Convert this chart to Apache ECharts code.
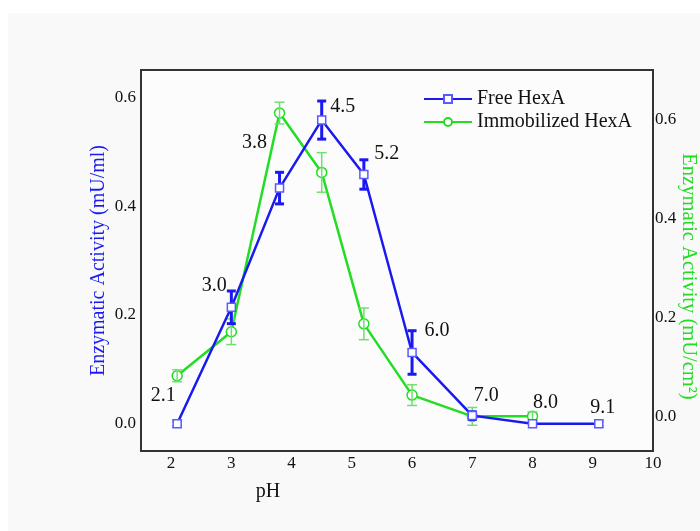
<!DOCTYPE html>
<html>
<head>
<meta charset="utf-8">
<script src="https://cdn.jsdelivr.net/npm/echarts@6/dist/echarts.min.js"></script>
<style>
  html, body { margin: 0; padding: 0; background: #ffffff; }
  #chart { width: 700px; height: 531px; }
</style>
</head>
<body>
<div id="chart"></div>
<script>
// pH values tested
const phFree = [2.1, 3.0, 3.8, 4.5, 5.2, 6.0, 7.0, 8.0, 9.1];
const phImmob = [2.1, 3.0, 3.8, 4.5, 5.2, 6.0, 7.0, 8.0];

// Free HexA activity (mU/ml) with error
const freeActivity = [0.0, 0.214, 0.433, 0.558, 0.458, 0.131, 0.015, 0.0, 0.0];
const freeError = [0.005, 0.030, 0.029, 0.035, 0.027, 0.040, 0.007, 0.005, 0.005];

// Immobilized HexA activity (mU/cm2) with error
const immobActivity = [0.082, 0.171, 0.613, 0.493, 0.187, 0.043, 0.0, 0.0];
const immobError = [0.012, 0.026, 0.022, 0.040, 0.032, 0.021, 0.018, 0.009];

// pH annotations next to the Free HexA points
const phLabels = ['2.1', '3.0', '3.8', '4.5', '5.2', '6.0', '7.0', '8.0', '9.1'];

// axis tick labels
const xTicks = [2, 3, 4, 5, 6, 7, 8, 9, 10];
const yTicksLeft = [0, 0.2, 0.4, 0.6];
const yTicksRight = [0, 0.2, 0.4, 0.6];

// label placement relative to each point (pixels)
const labelOffsets = [[-14, -28], [-17, -22], [-25, -45], [21, -13], [23, -21], [25, -22], [14, -20], [13, -21], [4, -16]];

const FONT = "'Liberation Serif', 'Times New Roman', serif";
const BLUE = '#1a1af0';
const GREEN = '#22dd22';
const GREEN_ERR = '#6fe06f';

const chart = echarts.init(document.getElementById('chart'), null, { renderer: 'canvas' });

function errorBarSeries(xs, ys, es, yAxisIndex, color, width, capHalf) {
  return {
    type: 'custom',
    xAxisIndex: 0,
    yAxisIndex: yAxisIndex,
    silent: true,
    z: 4,
    data: xs.map((x, i) => [x, ys[i], es[i]]),
    encode: { x: 0, y: 1 },
    renderItem: function (params, api) {
      const x = api.value(0), y = api.value(1), e = api.value(2);
      const hi = api.coord([x, y + e]);
      const lo = api.coord([x, y - e]);
      const style = { stroke: color, lineWidth: width };
      return {
        type: 'group',
        children: [
          { type: 'line', shape: { x1: hi[0], y1: hi[1], x2: lo[0], y2: lo[1] }, style: style },
          { type: 'line', shape: { x1: hi[0] - capHalf, y1: hi[1], x2: hi[0] + capHalf, y2: hi[1] }, style: style },
          { type: 'line', shape: { x1: lo[0] - capHalf, y1: lo[1], x2: lo[0] + capHalf, y2: lo[1] }, style: style }
        ]
      };
    }
  };
}

const option = {
  backgroundColor: '#ffffff',
  animation: false,
  graphic: [
    { type: 'rect', z: -10, shape: { x: 8, y: 13, width: 692, height: 518 }, style: { fill: '#f9f9f9' } }
  ],
  grid: {
    left: 141, right: 47, top: 70, bottom: 80,
    outerBoundsMode: 'none',
    containLabel: false,
    show: true, borderColor: '#333333', borderWidth: 2, backgroundColor: '#fcfcfc'
  },
  legend: {
    left: 423, top: 89,
    padding: 0,
    orient: 'vertical',
    itemWidth: 48, itemHeight: 10, itemGap: 3,
    textStyle: { fontFamily: FONT, fontSize: 20, color: '#111111' },
    data: ['Free HexA', 'Immobilized HexA']
  },
  xAxis: {
    type: 'value',
    min: 1.5, max: 10,
    name: 'pH',
    nameLocation: 'middle',
    nameGap: 31,
    nameMoveOverlap: false,
    nameTextStyle: { fontFamily: FONT, fontSize: 20, color: '#111111', padding: [0, 258, 0, 0] },
    axisLine: { show: true, onZero: false, lineStyle: { color: '#333333', width: 2 } },
    axisTick: { show: false },
    splitLine: { show: false },
    axisLabel: {
      customValues: xTicks,
      margin: 4,
      fontFamily: FONT, fontSize: 17, color: '#111111'
    }
  },
  yAxis: [
    {
      type: 'value',
      min: -0.05, max: 0.65,
      position: 'left',
      name: 'Enzymatic Activity (mU/ml)',
      nameLocation: 'middle',
      nameRotate: 90,
      nameGap: 32,
      nameMoveOverlap: false,
      nameTextStyle: { fontFamily: FONT, fontSize: 20, color: BLUE },
      axisLine: { show: true, onZero: false, lineStyle: { color: '#333333', width: 2 } },
      axisTick: { show: false },
      splitLine: { show: false },
      axisLabel: {
        customValues: yTicksLeft,
        formatter: v => v.toFixed(1),
        margin: 5,
        fontFamily: FONT, fontSize: 17, color: '#111111'
      }
    },
    {
      type: 'value',
      min: -0.07, max: 0.70,
      position: 'right',
      name: 'Enzymatic Activity (mU/cm\u00B2)',
      nameLocation: 'middle',
      nameRotate: -90,
      nameGap: 25,
      nameMoveOverlap: false,
      nameTextStyle: { fontFamily: FONT, fontSize: 20.5, color: GREEN, padding: [0, 0, 0, 32] },
      axisLine: { show: true, onZero: false, lineStyle: { color: '#333333', width: 2 } },
      axisTick: { show: false },
      splitLine: { show: false },
      axisLabel: {
        customValues: yTicksRight,
        formatter: v => v.toFixed(1),
        margin: 2,
        fontFamily: FONT, fontSize: 17, color: '#111111'
      }
    }
  ],
  series: [
    {
      name: 'Immobilized HexA',
      type: 'line',
      xAxisIndex: 0,
      yAxisIndex: 1,
      z: 3,
      data: phImmob.map((x, i) => [x, immobActivity[i]]),
      lineStyle: { color: GREEN, width: 2.5 },
      itemStyle: { color: '#ffffff', borderColor: GREEN, borderWidth: 1.5 },
      symbol: 'circle',
      symbolSize: 10,
      showAllSymbol: true
    },
    errorBarSeries(phImmob, immobActivity, immobError, 1, GREEN_ERR, 1.5, 5),
    {
      name: 'Free HexA',
      type: 'line',
      xAxisIndex: 0,
      yAxisIndex: 0,
      z: 5,
      data: phFree.map((x, i) => ({
        value: [x, freeActivity[i]],
        label: {
          show: true,
          formatter: phLabels[i],
          position: 'inside',
          offset: labelOffsets[i],
          fontFamily: FONT, fontSize: 20, color: '#111111',
          textBorderWidth: 0
        }
      })),
      lineStyle: { color: BLUE, width: 2.5 },
      itemStyle: { color: '#ffffff', borderColor: '#5a5aff', borderWidth: 1.5 },
      symbol: 'rect',
      symbolSize: 8,
      showAllSymbol: true
    },
    errorBarSeries(phFree, freeActivity, freeError, 0, BLUE, 3, 4.5)
  ]
};

chart.setOption(option);
</script>
</body>
</html>
